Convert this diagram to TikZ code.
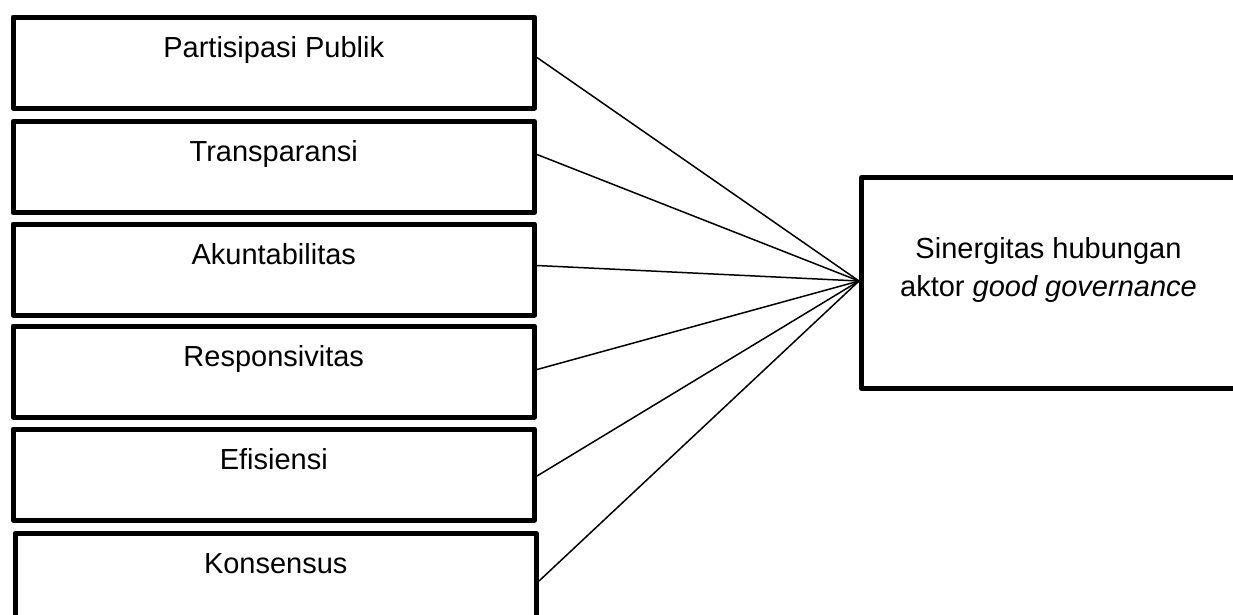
\documentclass[tikz,border=0pt]{standalone}
\usepackage{fontspec}
\setmainfont{Liberation Sans}
\begin{document}
\begin{tikzpicture}[x=1pt,y=-1pt,
  box/.style={draw, line width=5pt, line join=round, inner xsep=0pt, inner ysep=0pt,
    minimum width=521.5pt, text height=40pt, text depth=51pt, anchor=north west,
    font=\fontsize{29}{34}\selectfont},
  bigbox/.style={draw, line width=5pt, line join=round, minimum width=379pt, minimum height=211pt, anchor=north west},
  conn/.style={line width=1.5pt}]
\useasboundingbox (0,0) rectangle (1233,614);
\clip (0,0) rectangle (1233,614);
\node[box] (b1) at (10.5,14.5) {Partisipasi Publik};
\node[box] (b2) at (10.5,119) {Transparansi};
\node[box] (b3) at (10.5,221.5) {Akuntabilitas};
\node[box] (b4) at (10.5,323.5) {Responsivitas};
\node[box] (b5) at (10.5,426.5) {Efisiensi};
\node[box, text depth=55pt] (b6) at (12.5,531) {Konsensus};
\node[bigbox] (sg) at (859,175) {};
\node[anchor=north, inner sep=0pt, align=center, font=\fontsize{29}{38}\selectfont] (sgt) at (1048.5,237) {Sinergitas hubungan\\aktor \textit{good governance}};
\coordinate (hub) at ([yshift=2pt]sg.west);
\draw[conn] ([yshift=5pt]b1.east) -- (hub);
\draw[conn] ([yshift=12.5pt]b2.east) -- (hub);
\draw[conn] ([yshift=4pt]b3.east) -- (hub);
\draw[conn] ([yshift=2pt]b4.east) -- (hub);
\draw[conn] ([yshift=-1.5pt]b5.east) -- (hub);
\draw[conn] ([yshift=0pt]b6.east) -- (hub);
\end{tikzpicture}
\end{document}
